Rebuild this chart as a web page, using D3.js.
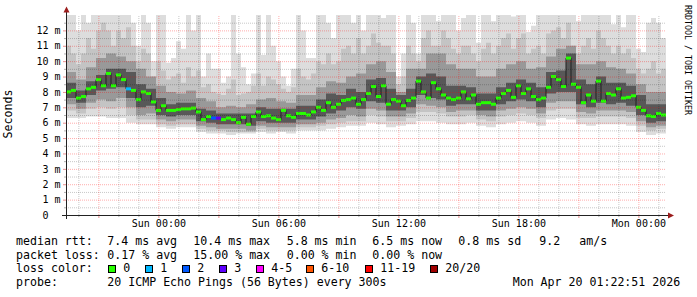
<!DOCTYPE html>
<html><head><meta charset="utf-8">
<script src="https://cdn.jsdelivr.net/npm/d3@7"></script>
<style>
html,body{margin:0;padding:0;background:#fff;}
svg{display:block;}
text{font-family:"DejaVu Sans Mono",monospace;fill:#000;}
</style>
</head><body>
<svg id="chart" width="697" height="297"></svg>
<script>
// ---- time span (30 h ending at probe time) ----
const startTime = Date.UTC(2026, 3, 18, 19, 22, 51);
const endTime   = Date.UTC(2026, 3, 20, 1, 22, 51);

// ---- median RTT (ms), one value per 15 min ----
const medianRtt = [
 8.0,8.1,7.6,7.7,8.2,8.3,8.8,8.4,9.2,8.4,
 9.1,8.8,8.2,8.1,7.5,8.0,7.9,7.35,6.8,7.1,
 6.8,6.8,6.85,6.9,6.9,6.95,6.7,6.2,6.4,6.3,
 6.3,6.2,6.3,6.2,6.0,6.35,5.9,6.4,6.7,6.4,
 6.45,6.3,6.2,6.8,6.45,6.35,6.6,6.6,6.5,6.7,
 7.0,6.8,7.3,7.0,7.2,7.45,7.5,7.6,7.2,7.5,
 7.9,8.35,7.7,8.4,7.2,7.5,7.4,7.1,7.45,7.6,
 8.7,8.0,7.6,8.6,8.2,7.8,7.6,7.5,7.6,8.0,
 7.55,7.8,7.2,7.3,7.3,7.2,7.6,7.9,8.1,7.65,
 8.4,7.9,8.2,7.7,7.5,7.6,8.3,9.0,8.8,8.35,
 10.2,8.5,8.3,7.3,7.8,7.4,8.7,7.4,7.9,7.8,
 8.2,7.6,7.65,7.75,7.0,6.8,6.45,6.4,6.6,6.5
];
// ---- lost pings (of 20) per 15 min ----
const lostPings = [
 0,0,0,0,0,0,0,0,0,0, 0,0,1,0,0,0,0,0,0,0, 0,0,0,0,0,0,0,0,0,2,
 3,0,0,0,0,0,0,0,0,0, 0,0,0,0,0,0,0,0,0,0, 0,0,0,0,0,0,0,0,0,0,
 0,0,0,0,0,0,0,0,0,0, 0,0,0,0,0,0,0,0,0,0, 0,0,0,0,0,0,0,0,0,0,
 0,0,0,0,0,0,0,0,0,0, 0,0,0,0,0,0,0,0,0,0, 0,0,0,0,0,0,0,0,0,0
];

// ---- smoke: spread of the sorted pings (ms) ----
// outer pair, one value per 15 min
const smokeMax = [
 13.5,13.5,12.0,13.0,12.5,13.0,13.5,13.5,13.5,13.5,
 13.5,13.5,13.5,12.5,11.0,13.5,12.5,10.0,13.5,13.5,
 9.9,10.2,11.3,10.8,13.5,12.0,13.5,9.0,10.5,9.5,
 9.5,8.6,9.0,13.5,10.5,9.6,8.5,9.2,13.5,10.4,
 13.5,11.0,10.0,9.0,8.4,9.5,13.5,12.0,10.2,10.2,
 13.5,13.5,12.5,11.5,13.5,13.5,13.5,12.5,13.5,12.0,
 13.5,13.5,13.5,12.8,13.5,13.5,9.0,10.5,13.5,12.5,
 10.5,13.5,13.5,13.5,12.6,13.5,13.5,13.5,12.0,12.8,
 13.5,13.5,11.2,13.5,13.5,12.6,13.5,13.5,13.5,12.9,
 13.5,13.5,11.9,12.3,13.5,13.5,13.5,13.5,13.5,13.5,
 13.5,13.5,12.6,13.5,13.5,13.5,13.5,13.5,13.5,12.4,
 13.5,12.2,13.5,13.5,10.8,10.6,12.5,12.8,12.5,11.5
];
const smokeMin = [
 6.3,6.3,6.4,6.4,6.3,6.3,6.0,5.9,5.9,5.7, 5.6,5.7,5.7,5.4,5.3,5.3,5.2,5.3,5.3,5.4,
 5.3,5.4,5.3,5.5,5.5,5.5,5.6,5.7,5.8,5.8, 6.0,5.9,5.7,5.8,5.9,6.1,6.1,6.0,5.9,5.9,
 6.0,5.8,5.7,5.9,6.0,6.1,6.0,5.8,6.2,6.3, 6.2,5.9,5.8,5.9,5.9,5.9,5.8,5.4,5.2,5.3
];
// second pair: upper edge per 15 min, lower edge per 30 min
const smokeHi2 = [
 11.0,10.5,9.8,10.5,11.5,10.8,12.0,12.5,12.0,11.0,
 12.0,11.5,12.2,11.0,10.0,10.8,10.5,9.0,10.0,9.4,
 8.8,9.0,9.2,8.6,9.6,9.0,9.4,8.3,8.5,8.0,
 7.9,7.8,8.2,8.8,7.8,7.9,8.0,8.4,9.2,8.4,
 9.0,8.8,8.5,8.2,8.0,8.3,9.5,9.0,8.8,9.2,
 10.0,9.8,10.5,9.8,10.0,10.8,11.0,10.5,11.5,10.5,
 11.0,11.8,11.2,11.0,11.0,10.5,8.5,9.0,11.0,10.5,
 10.0,11.5,12.0,11.0,11.0,12.0,11.5,10.8,10.5,11.0,
 11.0,10.5,10.0,10.8,11.2,10.5,11.0,11.5,11.8,10.8,
 11.5,11.8,10.5,10.8,11.0,10.5,11.8,12.0,12.2,11.5,
 12.5,11.0,10.5,11.0,11.5,10.8,12.0,11.5,11.0,10.5,
 11.0,10.5,10.8,10.2,9.5,9.2,9.5,10.0,9.2,9.5
];
const smokeLo2 = [
 6.8,6.6,6.9,7.0,6.9,7.0,6.5,6.2,6.2,5.9, 5.8,5.9,5.9,5.6,5.5,5.5,5.4,5.4,5.4,5.6,
 5.5,5.5,5.5,5.7,5.7,5.8,5.9,6.0,6.1,6.1, 6.5,6.4,6.1,6.1,6.3,6.7,6.7,6.6,6.4,6.4,
 6.5,6.2,6.1,6.4,6.5,6.6,6.5,6.3,6.8,6.9, 6.9,6.3,6.3,6.4,6.4,6.4,6.3,5.8,5.5,5.6
];
// third and inner pairs, per 30 min
const smokeHi3 = [
 9.3,8.8,9.6,10.2,10.5,10.3,10.0,9.5,9.0,8.4, 8.0,7.9,8.1,7.6,7.4,7.0,7.1,7.0,7.2,7.5,
 7.6,7.4,7.3,7.8,7.8,8.3,8.7,8.6,9.0,9.2, 9.8,10.0,9.3,8.0,9.5,9.5,10.5,10.5,9.8,9.5,
 9.5,9.0,9.0,9.5,9.8,10.0,9.5,9.6,10.3,10.8, 11.0,9.8,9.8,10.0,9.6,9.5,9.2,8.5,8.0,8.0
];
const smokeLo3 = [
 7.2,6.9,7.3,7.5,7.4,7.6,7.0,6.5,6.6,6.2, 6.1,6.2,6.2,5.8,5.7,5.6,5.6,5.6,5.5,5.8,
 5.7,5.7,5.7,5.9,5.9,6.0,6.2,6.3,6.5,6.4, 6.9,6.8,6.4,6.4,6.6,7.2,7.1,7.0,6.7,6.8,
 6.8,6.5,6.4,6.8,6.9,7.0,6.9,6.6,7.3,7.4, 7.4,6.7,6.6,6.8,6.8,6.8,6.7,6.1,5.7,5.8
];
const smokeHi4 = [
 8.6,8.1,8.7,9.1,9.5,9.5,9.3,8.5,8.2,7.6, 7.2,7.3,7.3,6.9,6.8,6.6,6.6,6.6,6.6,7.0,
 6.9,6.9,6.9,7.1,7.1,7.5,7.9,7.8,8.2,8.0, 8.8,8.9,8.2,7.8,8.2,9.0,9.2,9.0,8.4,8.4,
 8.3,7.9,7.9,8.3,8.6,8.8,8.6,8.3,9.3,9.4, 10.5,8.8,8.5,9.0,8.6,8.6,8.4,7.8,7.2,7.2
];
const smokeLo4 = [
 7.6,7.3,7.8,8.1,8.2,8.3,7.6,7.0,7.1,6.5, 6.4,6.5,6.5,6.1,6.0,5.9,5.9,5.9,5.8,6.1,
 6.0,6.0,6.0,6.2,6.2,6.4,6.6,6.8,7.0,6.9, 7.4,7.3,6.8,6.8,7.0,7.8,7.6,7.5,7.1,7.2,
 7.2,6.8,6.8,7.2,7.4,7.5,7.4,7.0,7.9,8.0, 8.0,7.2,7.0,7.3,7.2,7.3,7.1,6.5,6.0,6.1
];

// ---- axes ----
const yTicks = [0,1,2,3,4,5,6,7,8,9,10,11,12];
const yTickLabels = ["0\u00a0\u00a0","1 m","2 m","3 m","4 m","5 m","6 m","7 m","8 m","9 m","10 m","11 m","12 m"];
const xTickLabels = ["Sun 00:00","Sun 06:00","Sun 12:00","Sun 18:00","Mon 00:00"];
const xTickTimes = [Date.UTC(2026,3,19,0),Date.UTC(2026,3,19,6),Date.UTC(2026,3,19,12),Date.UTC(2026,3,19,18),Date.UTC(2026,3,20,0)];

// ---- legend ----
const lossBins = ["0","1","2","3","4-5","6-10","11-19","20/20"];
const lossColors = ["#26ff00","#00b8ff","#0059ff","#5e00ff","#ff00ff","#ff5500","#ff0000","#a00000"];
const lossThresholds = [0,1,2,3,5,10,19,20];
const rttStats = ["7.4 ms avg","10.4 ms max","5.8 ms min","6.5 ms now","0.8 ms sd","9.2","am/s"];
const lossStats = ["0.17 % avg","15.00 % max","0.00 % min","0.00 % now"];
const probeText = "20 ICMP Echo Pings (56 Bytes) every 300s";
const stampText = "Mon Apr 20 01:22:51 2026";

// ================= drawing =================
const svg = d3.select("#chart");
const L = 66, R = 666, T = 15, B = 215;
const x = d3.scaleUtc().domain([startTime, endTime]).range([L, R]);
const y = d3.scaleLinear().domain([0, 13]).range([B, T]);

svg.append("defs").append("clipPath").attr("id","plot")
  .append("rect").attr("x",L).attr("y",T).attr("width",R-L).attr("height",B-T);
const plot = svg.append("g").attr("clip-path","url(#plot)");

// step series helper: value array spread evenly over the time span
const stepTime = (arr, i) => startTime + i * (endTime - startTime) / arr.length;
const valAt = (arr, t) => arr[Math.min(arr.length - 1, Math.floor((t - startTime) / ((endTime - startTime) / arr.length)))];

// smoke layers (a pair may mix resolutions; use union of breakpoints)
const layers = [
  {lo: smokeMin, hi: smokeMax, color: "#dddddd"},
  {lo: smokeLo2, hi: smokeHi2, color: "#c4c4c4"},
  {lo: smokeLo3, hi: smokeHi3, color: "#999999"},
  {lo: smokeLo4, hi: smokeHi4, color: "#585858"}
];
layers.forEach(ly => {
  const n = Math.max(ly.lo.length, ly.hi.length);
  const times = d3.range(n + 1).map(i => startTime + i * (endTime - startTime) / n);
  const area = d3.area()
    .x(t => x(t))
    .y0(t => y(valAt(ly.lo, Math.min(t, endTime - 1))))
    .y1(t => y(valAt(ly.hi, Math.min(t, endTime - 1))))
    .curve(d3.curveStepAfter);
  plot.append("path").datum(times).attr("d", area).attr("fill", ly.color);
});

// grid (drawn over the smoke)
const gridG = svg.append("g");
const styleGrid = (g, col, op) => g.call(s => s.select(".domain").remove())
  .call(s => s.selectAll("line").attr("stroke", col).attr("stroke-opacity", op).attr("stroke-dasharray","1,1"));
const minorY = d3.range(0.5, 13, 1);
const hourTicks = d3.utcHour.every(1).range(startTime, endTime).filter(d => d.getUTCHours() % 3 !== 0);
const major3h = d3.utcHour.every(3).range(startTime, endTime);
gridG.append("g").attr("transform",`translate(${L},0)`)
  .call(d3.axisLeft(y).tickValues(minorY).tickSize(-(R-L)).tickFormat(""))
  .call(g => styleGrid(g, "#000", 0.22));
gridG.append("g").attr("transform",`translate(0,${B})`)
  .call(d3.axisBottom(x).tickValues(hourTicks).tickSize(-(B-T)).tickFormat(""))
  .call(g => styleGrid(g, "#000", 0.22));
gridG.append("g").attr("transform",`translate(${L},0)`)
  .call(d3.axisLeft(y).tickValues(yTicks.filter(v => v > 0)).tickSize(-(R-L)).tickFormat(""))
  .call(g => styleGrid(g, "#ff0000", 0.33));
gridG.append("g").attr("transform",`translate(0,${B})`)
  .call(d3.axisBottom(x).tickValues(major3h).tickSize(-(B-T)).tickFormat(""))
  .call(g => styleGrid(g, "#ff0000", 0.33));

// small outer ticks
const styleTick = (g, col) => g.call(s => s.select(".domain").remove())
  .call(s => s.selectAll("line").attr("stroke", col));
svg.append("g").attr("transform",`translate(0,${B})`)
  .call(d3.axisBottom(x).tickValues(hourTicks).tickSize(2).tickFormat("")).call(g => styleTick(g, "#b0b0b0"));
svg.append("g").attr("transform",`translate(0,${B})`)
  .call(d3.axisBottom(x).tickValues(major3h).tickSize(3).tickFormat("")).call(g => styleTick(g, "#e89090"));
svg.append("g").attr("transform",`translate(${L},0)`)
  .call(d3.axisLeft(y).tickValues(minorY).tickSize(2).tickFormat("")).call(g => styleTick(g, "#b0b0b0"));
svg.append("g").attr("transform",`translate(${L},0)`)
  .call(d3.axisLeft(y).tickValues(yTicks).tickSize(3).tickFormat("")).call(g => styleTick(g, "#e89090"));

// median line + loss coloured bands
const nM = medianRtt.length;
const medTimes = d3.range(nM + 1).map(i => stepTime(medianRtt, i));
const medLine = d3.line()
  .x(t => x(t))
  .y(t => y(valAt(medianRtt, Math.min(t, endTime - 1))))
  .curve(d3.curveStepAfter);
plot.append("path").datum(medTimes).attr("d", medLine)
  .attr("fill","none").attr("stroke","#202020").attr("stroke-width",1);
const lossColor = n => lossColors[lossThresholds.findIndex(t => n <= t)];
plot.append("g").selectAll("rect").data(d3.range(nM)).join("rect")
  .attr("x", i => x(medTimes[i]))
  .attr("width", i => x(medTimes[i+1]) - x(medTimes[i]))
  .attr("y", i => y(medianRtt[i]) - 1.5)
  .attr("height", 3)
  .attr("fill", i => lossColor(lostPings[i]));

// axis lines and arrows
const arrowColor = "#9b1c1c";
svg.append("line").attr("x1",62).attr("x2",669).attr("y1",B+0.5).attr("y2",B+0.5).attr("stroke","#222");
svg.append("line").attr("x1",L+0.5).attr("x2",L+0.5).attr("y1",219).attr("y2",11).attr("stroke","#222");
svg.append("path").attr("d",`M668,${B-2.5}L674,${B+0.5}L668,${B+3.5}Z`).attr("fill",arrowColor);
svg.append("path").attr("d",`M${L-2.5},12.5L${L+0.5},6.5L${L+3.5},12.5Z`).attr("fill",arrowColor);

// tick labels
svg.append("g").attr("transform",`translate(${L},0)`)
  .call(d3.axisLeft(y).tickValues(yTicks).tickSize(0).tickPadding(5.5)
        .tickFormat((d,i) => yTickLabels[i]))
  .call(g => g.select(".domain").remove())
  .call(g => g.selectAll("text").attr("font-family","DejaVu Sans Mono").attr("font-size","10px").attr("fill","#000"));
svg.append("g").attr("transform",`translate(0,${B})`)
  .call(d3.axisBottom(x).tickValues(xTickTimes).tickSize(0).tickPadding(5.2)
        .tickFormat((d,i) => xTickLabels[i]))
  .call(g => g.select(".domain").remove())
  .call(g => g.selectAll("text").attr("font-family","DejaVu Sans Mono").attr("font-size","10px").attr("fill","#000"));

// y axis title
svg.append("text").attr("transform","translate(12,114) rotate(-90)")
  .attr("text-anchor","middle").attr("font-size","11.6px").text("Seconds");

// watermark
svg.append("text").attr("transform","translate(685,60) rotate(90)")
  .attr("text-anchor","middle").attr("font-size","8.3px").attr("fill","#b8b8b8")
  .text("RRDTOOL / TOBI OETIKER");

// legend
const lg = svg.append("g").attr("font-size","11.6px").style("white-space","pre");
const put = (tx, xx, yy) => lg.append("text").attr("x",xx).attr("y",yy).text(tx);
const rows = [245.3, 258.7, 272.3, 286];
put("median rtt:", 16, rows[0]);
[107.3,193.3,286.7,372.3,458.3,539.3,579.3].forEach((xx,i) => put(rttStats[i], xx, rows[0]));
put("packet loss:", 16, rows[1]);
[107.3,193.3,286.7,372.3].forEach((xx,i) => put(lossStats[i], xx, rows[1]));
put("loss color:", 16, rows[2]);
const swX = [108.5,145.5,182.5,219.5,256.5,306.5,365.5,430.5];
lossBins.forEach((b,i) => {
  lg.append("rect").attr("x",swX[i]).attr("y",265.5).attr("width",7).attr("height",7)
    .attr("fill",lossColors[i]).attr("stroke","#000").attr("stroke-width",1);
  put(b, swX[i] + 14.8, rows[2]);
});
put("probe:", 16, rows[3]);
put(probeText, 107.3, rows[3]);
put(stampText, 512.7, rows[3]);
</script>
</body></html>
